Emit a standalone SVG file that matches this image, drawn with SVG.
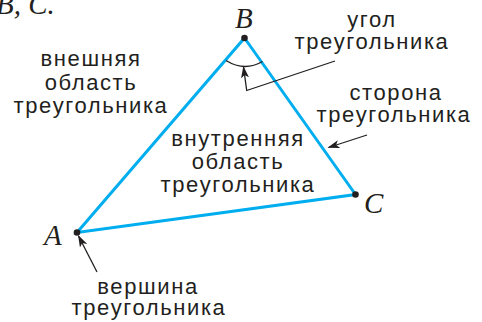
<svg xmlns="http://www.w3.org/2000/svg" width="482" height="322" viewBox="0 0 482 322">
<defs>
<style>
.lbl{font-family:"Liberation Sans",Arial,sans-serif;font-size:22px;fill:#231f20;letter-spacing:1.6px;text-anchor:middle}
.pt{font-family:"Liberation Serif","Times New Roman",serif;font-style:italic;font-size:29px;fill:#231f20}
.side{stroke:#00aeef;stroke-width:3;fill:none;stroke-linecap:round}
.ptr{stroke:#231f20;stroke-width:1.3;fill:none}
</style>
<marker id="ah" viewBox="0 0 12 8" refX="11" refY="4" markerWidth="12" markerHeight="8" markerUnits="userSpaceOnUse" orient="auto">
<path d="M0,0 L12,4 L0,8 L3,4 Z" fill="#231f20"/>
</marker>
</defs>
<rect width="482" height="322" fill="#ffffff"/>
<text class="pt" x="-4" y="14">B, C.</text>
<g id="triangle">
<polygon class="side" points="244.5,38 355.5,194.5 77,232.5" stroke-linejoin="miter"/>
</g>
<g id="vertexA"><circle cx="77" cy="232.5" r="3.3" fill="#231f20"/><text class="pt" x="44" y="245">A</text></g>
<g id="vertexB"><circle cx="244.5" cy="38" r="3.3" fill="#231f20"/><text class="pt" x="235" y="28">B</text></g>
<g id="vertexC"><circle cx="355.5" cy="194.5" r="3.3" fill="#231f20"/><text class="pt" x="364" y="213">C</text></g>
<g id="angle"><path class="ptr" d="M226,60.5 Q244.5,72 262.5,61.5"/></g>
<g id="label-outer"><text class="lbl"><tspan x="91" y="66">внешняя</tspan><tspan x="91" y="90">область</tspan><tspan x="91" y="113">треугольника</tspan></text></g>
<g id="label-inner"><text class="lbl"><tspan x="238" y="146">внутренняя</tspan><tspan x="238" y="169">область</tspan><tspan x="238" y="192">треугольника</tspan></text></g>
<g id="label-angle"><text class="lbl"><tspan x="372" y="27">угол</tspan><tspan x="372" y="48.5">треугольника</tspan></text></g>
<g id="label-side"><text class="lbl"><tspan x="396" y="99.5">сторона</tspan><tspan x="394" y="121.5">треугольника</tspan></text></g>
<g id="label-vertex"><text class="lbl"><tspan x="148" y="293.5">вершина</tspan><tspan x="149" y="315">треугольника</tspan></text></g>
<g id="connectors">
<polyline class="ptr" points="335,61 246.7,90.5 243.5,67" marker-end="url(#ah)"/>
<line class="ptr" x1="367" y1="135" x2="328.5" y2="147.5" marker-end="url(#ah)"/>
<line class="ptr" x1="97" y1="272" x2="78.5" y2="236" marker-end="url(#ah)"/>
</g>
</svg>
